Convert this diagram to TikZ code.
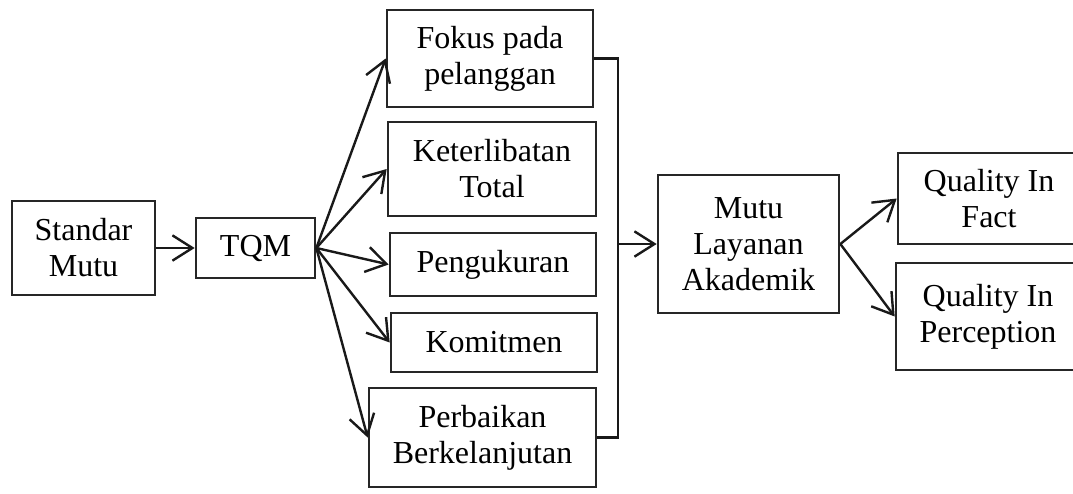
\documentclass[tikz,border=0pt]{standalone}
\usepackage{fontspec}
\setmainfont{Liberation Serif}
\usepackage{tikz}
\usetikzlibrary{arrows.meta,positioning,calc}

\begin{document}
\begin{tikzpicture}[
  x=0.75pt, y=-0.75pt,
  box/.style={
    rectangle, draw=black!85, line width=2pt, fill=white,
    align=center, inner sep=0,
    font=\fontsize{24}{27}\selectfont
  },
  link/.style={
    -{Straight Barb[length=15pt,width=19pt,line width=1.8pt]},
    line width=1.8pt, black!90
  },
]
\useasboundingbox (0,0) rectangle (1073,493);
% Left
\node[box,minimum width=107.25pt,minimum height=70.5pt] (SM) at (83.5,248) {Standar\\Mutu};
\node[box,minimum width=89.25pt,minimum height=45pt] (TQM) at (255.5,248) {TQM};
% Elements
\node[box,minimum width=154.5pt,minimum height=72.75pt] (FP) at (490,58.5) {Fokus pada\\pelanggan};
\node[box,minimum width=156pt,minimum height=70.5pt] (KT) at (492,169) {Keterlibatan\\Total};
\node[box,minimum width=154.5pt,minimum height=47.25pt] (PG) at (493,264.5) {Pengukuran};
\node[box,minimum width=154.5pt,minimum height=44.25pt] (KM) at (494,342.5) {Komitmen};
\node[box,minimum width=170.25pt,minimum height=74.25pt] (PB) at (482.5,437.5) {Perbaikan\\Berkelanjutan};
% Right
\node[box,minimum width=135.75pt,minimum height=103.5pt] (MLA) at (748.5,244) {Mutu\\Layanan\\Akademik};
\node[box,minimum width=136.5pt,minimum height=68.25pt] (QF) at (989,198.5) {Quality In\\Fact};
\node[box,minimum width=138pt,minimum height=80.25pt] (QP) at (988,316.5) {Quality In\\Perception};
% Arrows
\draw[link] (SM.east) -- (TQM.west);
\draw[link] (TQM.east) -- (FP.west);
\draw[link] (TQM.east) -- (KT.west);
\draw[link] (TQM.east) -- (PG.west);
\draw[link] (TQM.east) -- (KM.west);
\draw[link] (TQM.east) -- (PB.west);
% Bracket
\coordinate (bus) at (618,244);
\draw[line width=1.8pt,black!90,line join=miter] (FP.east) -- (FP.east -| bus) -- (PB.east -| bus) -- (PB.east);
\draw[link] (bus) -- (MLA.west);
\draw[link] (MLA.east) -- (QF.west);
\draw[link] (MLA.east) -- (QP.west);
\end{tikzpicture}
\end{document}
